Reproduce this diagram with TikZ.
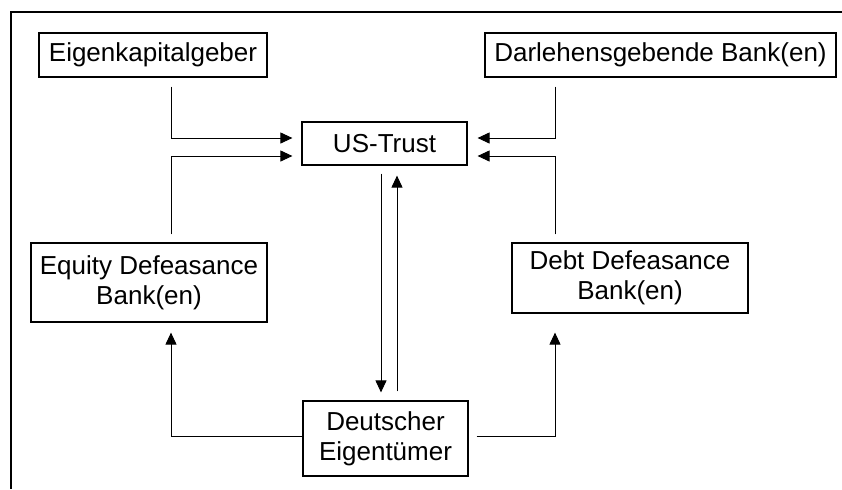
\documentclass[tikz,border=0pt]{standalone}
\usepackage{fontspec}
\setmainfont{Liberation Sans}
\usetikzlibrary{arrows.meta,calc}

\begin{document}
\begin{tikzpicture}[x=0.5pt, y=-0.5pt,
  box/.style={draw, line width=0.6pt, inner sep=0pt, align=center,
    font=\fontsize{13}{15}\selectfont},
  flow/.style={line width=0.5pt, -{Triangle[length=6pt,width=5.5pt]}}]
  \useasboundingbox (0,0) rectangle (842,489);

  % Outer frame (top and left edge only)
  \draw[line width=0.6pt] (842,12) -- (11,12) -- (11,489);

  % Parties
  \node[box, minimum width=114pt, minimum height=22pt] (eigen) at (153,55) {Eigenkapitalgeber};
  \node[box, minimum width=175.5pt, minimum height=22pt] (darlehen) at (660.5,55) {Darlehensgebende Bank(en)};
  \node[box, minimum width=82.5pt, minimum height=21.5pt] (trust) at (384.5,143.5) {US-Trust};
  \node[box, minimum width=118pt, minimum height=39.5pt] (equity) at (149,282.5) {Equity Defeasance\\Bank(en)};
  \node[box, minimum width=118pt, minimum height=35pt] (debt) at (630,278) {Debt Defeasance\\Bank(en)};
  \node[box, minimum width=82.5pt, minimum height=37.5pt] (owner) at (385.5,438.5) {Deutscher\\Eigentümer};

  % Flows into the trust
  \draw[flow] ($(eigen.south)+(18,9)$) |- ($(trust.west)+(-9,-5.5)$);
  \draw[flow] ($(equity.north)+(22,-8)$) |- ($(trust.west)+(-9,12.5)$);
  \draw[flow] ($(darlehen.south)+(-105.5,9)$) |- ($(trust.east)+(10,-5.5)$);
  \draw[flow] ($(debt.north)+(-75,-8)$) |- ($(trust.east)+(10,12.5)$);

  % Trust and owner
  \draw[flow] ($(trust.south)+(-3.5,8)$) -- ($(owner.north)+(-4.5,-8)$);
  \draw[flow] ($(owner.north)+(11.5,-9)$) -- ($(trust.south)+(12.5,10)$);

  % Owner to the defeasance banks
  \draw[flow] ($(owner.west)+(0,-2.5)$) -| ($(equity.south)+(22,10)$);
  \draw[flow] ($(owner.east)+(8,-2.5)$) -| ($(debt.south)+(-75,19)$);
\end{tikzpicture}
\end{document}
